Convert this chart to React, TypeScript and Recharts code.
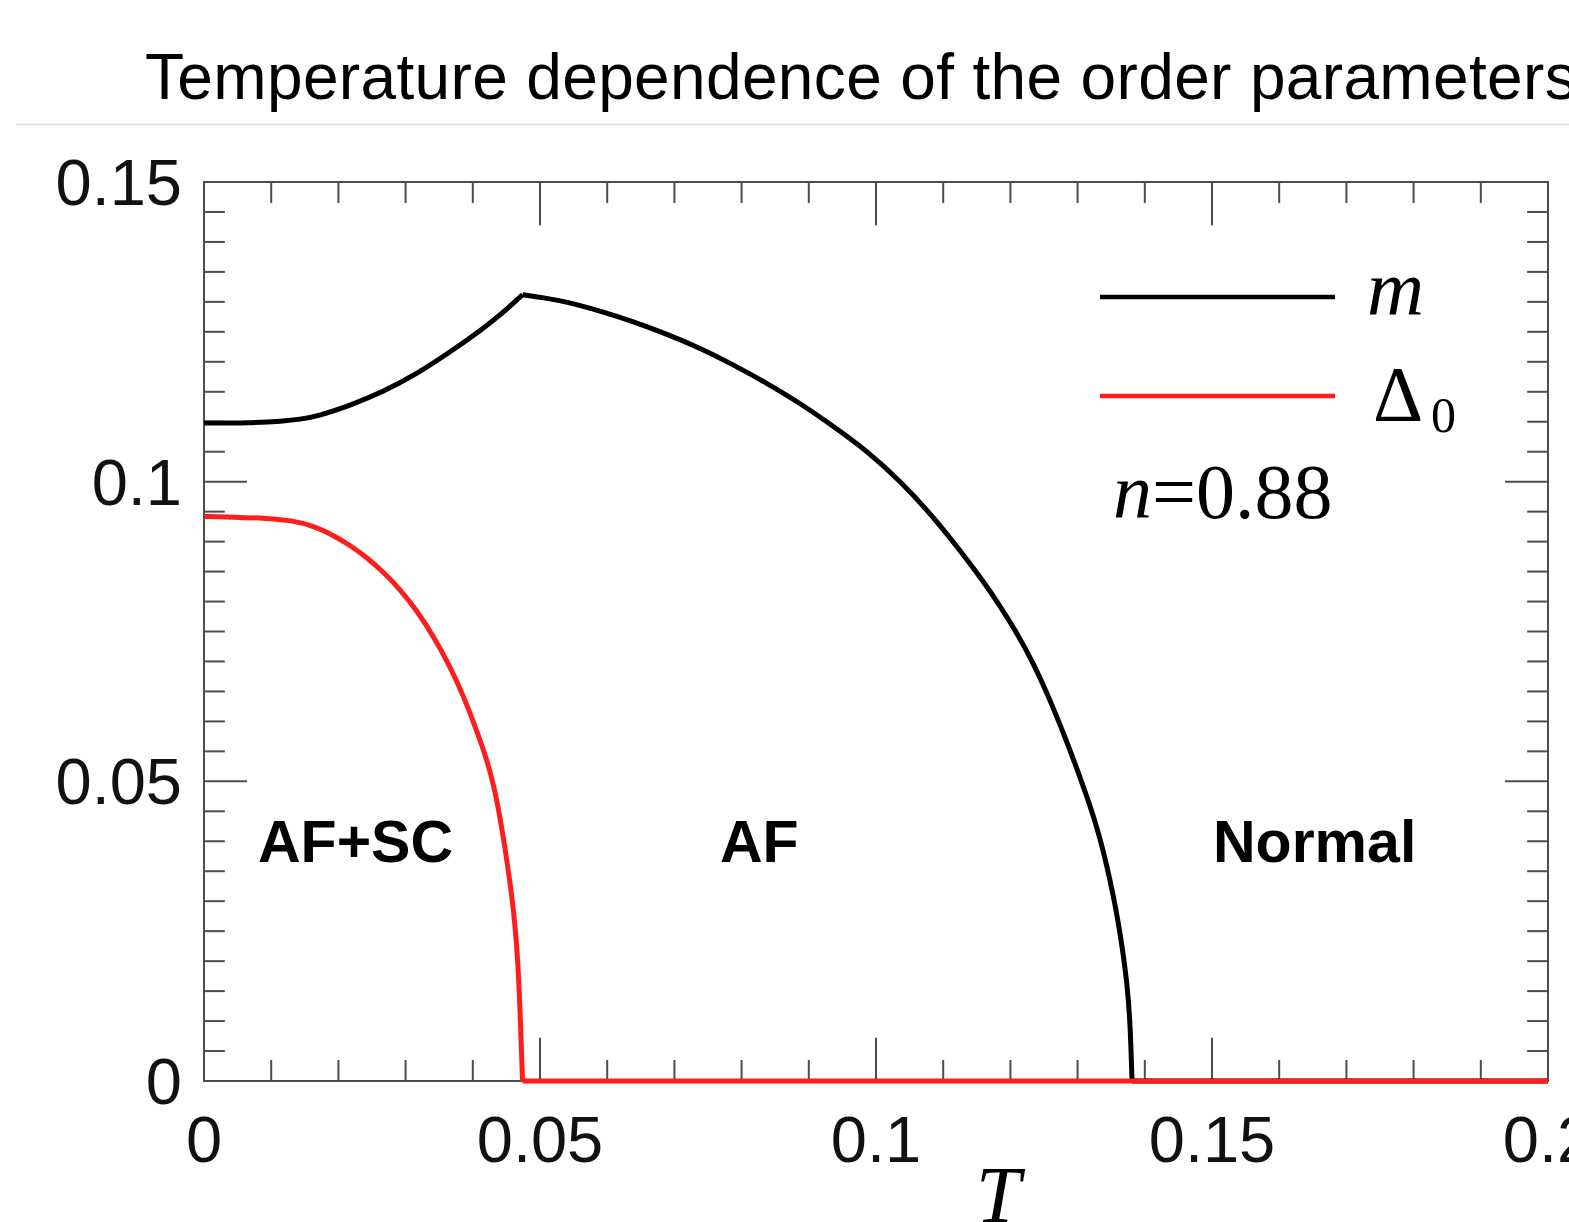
import React from "react"
import { LineChart, Line, XAxis, YAxis, ReferenceLine, ReferenceArea } from "recharts"

// temperature samples and order parameter values
const tempM = [0, 0.0068, 0.0118, 0.0143, 0.0168, 0.0217, 0.0267, 0.0317, 0.0366, 0.0416, 0.0445, 0.047, 0.0474, 0.0505, 0.054, 0.0589, 0.0639, 0.0689, 0.0738, 0.0788, 0.0838, 0.0887, 0.0937, 0.0988, 0.1036, 0.1085, 0.1135, 0.116, 0.1185, 0.1209, 0.1234, 0.1259, 0.1284, 0.1299, 0.1314, 0.1324, 0.1333, 0.1343, 0.1353, 0.1361, 0.1368, 0.1373, 0.1378, 0.1381, 0.2]
const mValues = [0.1098, 0.1098, 0.1101, 0.1104, 0.1109, 0.1127, 0.115, 0.118, 0.1216, 0.1256, 0.1282, 0.1308, 0.1312, 0.1307, 0.13, 0.1285, 0.1267, 0.1246, 0.1223, 0.1195, 0.1164, 0.1131, 0.1092, 0.105, 0.1001, 0.0942, 0.0871, 0.0833, 0.0792, 0.0749, 0.0698, 0.0636, 0.0566, 0.0521, 0.0474, 0.044, 0.0406, 0.0362, 0.031, 0.0262, 0.0211, 0.0167, 0.0106, 0, 0]

const tempDelta = [0, 0.0044, 0.0093, 0.0133, 0.0163, 0.0192, 0.0217, 0.0242, 0.0267, 0.0292, 0.0316, 0.0341, 0.0366, 0.0386, 0.0406, 0.0421, 0.0431, 0.044, 0.045, 0.0458, 0.0463, 0.0467, 0.047, 0.0474, 0.2]
const deltaValues = [0.0942, 0.0941, 0.0939, 0.0935, 0.0926, 0.0911, 0.0894, 0.0874, 0.0849, 0.082, 0.0786, 0.0743, 0.0692, 0.0643, 0.0584, 0.0536, 0.0494, 0.0444, 0.0374, 0.031, 0.0258, 0.02, 0.013, 0, 0]

const xTickLabels = [0, 0.05, 0.1, 0.15, 0.2]
const yTickLabels = [0, 0.05, 0.1, 0.15]
const xInnerMajor = [0.05, 0.1, 0.15]
const xInnerMinor = [0.01, 0.02, 0.03, 0.04, 0.06, 0.07, 0.08, 0.09, 0.11, 0.12, 0.13, 0.14, 0.16, 0.17, 0.18, 0.19]
const yInnerMajor = [0.05, 0.1]
const yInnerMinor = [0.005, 0.01, 0.015, 0.02, 0.025, 0.03, 0.035, 0.04, 0.045, 0.055, 0.06, 0.065, 0.07, 0.075, 0.08, 0.085, 0.09, 0.095, 0.105, 0.11, 0.115, 0.12, 0.125, 0.13, 0.135, 0.14, 0.145]

const mData = tempM.map((T, i) => ({ T, v: mValues[i] }))
const deltaData = tempDelta.map((T, i) => ({ T, v: deltaValues[i] }))

// split each series where it has a corner (peak, transition to zero)
const peakIdx = mValues.indexOf(Math.max(...mValues))
const mZeroIdx = mValues.indexOf(0)
const dZeroIdx = deltaValues.indexOf(0)
const mRise = mData.slice(0, peakIdx + 1)
const mFall = mData.slice(peakIdx, mZeroIdx + 1)
const mFlat = mData.slice(mZeroIdx)
const dCurve = deltaData.slice(0, dZeroIdx + 1)
const dFlat = deltaData.slice(dZeroIdx)

const BLACK = "#000000"
const RED = "#ff1c1c"
const FRAME = "#4d4d4d"
const SANS = "'Liberation Sans', Arial, sans-serif"
const SERIF = "'Liberation Serif', 'Times New Roman', serif"

// inward tick lengths, in data units of the perpendicular axis
const X_MINOR_LEN = 0.0035
const X_MAJOR_LEN = 0.0072
const Y_MINOR_LEN = 0.0031
const Y_MAJOR_LEN = 0.0064

const tickProps = { stroke: FRAME, strokeWidth: 2, ifOverflow: "visible" as const }

const xTicks = [
  ...xInnerMinor.map(x => ({ x, len: X_MINOR_LEN })),
  ...xInnerMajor.map(x => ({ x, len: X_MAJOR_LEN })),
]
const yTicks = [
  ...yInnerMinor.map(y => ({ y, len: Y_MINOR_LEN })),
  ...yInnerMajor.map(y => ({ y, len: Y_MAJOR_LEN })),
]

const lineProps = { dataKey: "v", strokeWidth: 5, strokeLinejoin: "round" as const, dot: false, activeDot: false, isAnimationActive: false }

const App = () => {
  return (
    <div style={{ position: "absolute", left: 0, top: 0, width: 1569, height: 1222, overflow: "hidden", background: "#fff" }}>
      <LineChart width={1569} height={1222} margin={{ top: 182, right: 21, bottom: 0, left: 0 }}>
        <XAxis type="number" dataKey="T" domain={[0, 0.2]} ticks={xTickLabels} interval={0}
          height={141} axisLine={false} tickLine={false} tickSize={0} tickMargin={35}
          tickFormatter={(v) => String(v)}
          tick={{ fontSize: 65, fill: "#111", fontFamily: SANS }} />
        <YAxis type="number" domain={[0, 0.15]} ticks={yTickLabels} interval={0}
          width={204} axisLine={false} tickLine={false} tickSize={0} tickMargin={22}
          tickFormatter={(v) => String(v)}
          tick={{ fontSize: 65, fill: "#111", fontFamily: SANS }} />
        <ReferenceArea x1={0} x2={0.2} y1={0} y2={0.15} fill="none" fillOpacity={0} stroke={FRAME} strokeWidth={2} ifOverflow="visible" />
        {xTicks.flatMap(({ x, len }) => [
          <ReferenceLine key={"xb" + x} segment={[{ x, y: 0 }, { x, y: len }]} {...tickProps} />,
          <ReferenceLine key={"xt" + x} segment={[{ x, y: 0.15 }, { x, y: 0.15 - len }]} {...tickProps} />,
        ])}
        {yTicks.flatMap(({ y, len }) => [
          <ReferenceLine key={"yl" + y} segment={[{ x: 0, y }, { x: len, y }]} {...tickProps} />,
          <ReferenceLine key={"yr" + y} segment={[{ x: 0.2, y }, { x: 0.2 - len, y }]} {...tickProps} />,
        ])}
        <Line data={mRise} name="m" type="basis" stroke={BLACK} {...lineProps} />
        <Line data={mFall} name="m " type="basis" stroke={BLACK} {...lineProps} />
        <Line data={mFlat} name="m  " type="linear" stroke={BLACK} {...lineProps} />
        <Line data={dCurve} name="Δ0" type="basis" stroke={RED} {...lineProps} />
        <Line data={dFlat} name="Δ0 " type="linear" stroke={RED} {...lineProps} />
      </LineChart>
      <svg width={1569} height={1222} style={{ position: "absolute", left: 0, top: 0, pointerEvents: "none" }}>
        <text x={145} y={99} fontFamily={SANS} fontSize={64} letterSpacing={0.35} fill="#000">Temperature dependence of the order parameters</text>
        <line x1={16} x2={1569} y1={124.5} y2={124.5} stroke="#dcdcdc" strokeWidth={1.5} />

        <line x1={1100} x2={1335} y1={297} y2={297} stroke={BLACK} strokeWidth={4.5} />
        <text x={1367} y={315} fontFamily={SERIF} fontStyle="italic" fontSize={79} fill="#000">m</text>
        <line x1={1100} x2={1335} y1={396} y2={396} stroke={RED} strokeWidth={4.5} />
        <text x={1373} y={420} fontFamily={SERIF} fontSize={78} fill="#000">Δ</text>
        <text x={1431} y={432} fontFamily={SERIF} fontSize={50} fill="#000">0</text>

        <text x={1113} y={518} fontFamily={SERIF} fontSize={78} fill="#000">
          <tspan fontStyle="italic">n</tspan><tspan>=0.88</tspan>
        </text>

        <text x={258} y={862} fontFamily={SANS} fontWeight="bold" fontSize={59} fill="#000">AF+SC</text>
        <text x={720} y={862} fontFamily={SANS} fontWeight="bold" fontSize={59} fill="#000">AF</text>
        <text x={1213} y={862} fontFamily={SANS} fontWeight="bold" fontSize={59} fill="#000">Normal</text>

        <text x={976} y={1222} fontFamily={SERIF} fontStyle="italic" fontSize={80} fill="#000">T</text>
      </svg>
    </div>
  )
}

export default App
